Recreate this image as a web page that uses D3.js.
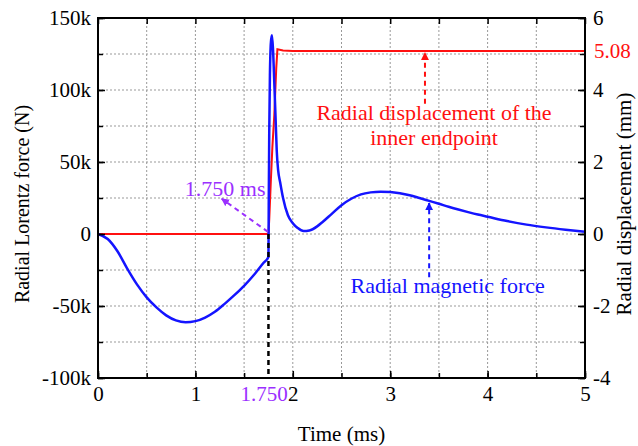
<!DOCTYPE html>
<html>
<head>
<meta charset="utf-8">
<script src="https://cdn.jsdelivr.net/npm/d3@7"></script>
<style>
  html, body { margin: 0; padding: 0; background: #fff; }
  svg { display: block; }
  svg text { font-family: "Liberation Serif", "Times New Roman", serif !important; }
</style>
</head>
<body>
<svg id="chart" width="638" height="446"></svg>
<script>
// ---- data ----
const forceTime = [0,0.1,0.2,0.3,0.4,0.5,0.6,0.7,0.8,0.9,1.0,1.1,1.2,1.3,1.4,1.5,1.6,1.7,1.75,
  1.753,1.758,1.765,1.775,1.786,1.797,1.81,1.824,1.835,1.85,1.87,1.9,1.95,2.0,2.05,2.11,2.17,2.25,2.3,2.4,2.5,2.6,2.7,2.8,2.9,3.0,
  3.1,3.2,3.3,3.4,3.5,3.6,3.7,3.8,3.9,4.0,4.2,4.4,4.6,4.8,5.0];
const forceValues = [0,-3.5,-12,-24,-35,-44,-51,-56.5,-60,-61.3,-60.5,-58,-54,-48.5,-42.5,-36,-28.5,-20,-16,
  20,70,110,133,138,128,105,79,58,44,36,25,13,7.5,4.2,2.1,2.5,5.3,8,14,20,24.5,27.5,28.9,29.4,29.2,
  28.3,26.9,25.0,23.0,21.0,18.9,17.0,15.2,13.5,12.0,9.0,6.5,4.6,3.0,1.6].map(v => v * 1000);
const dispTime = [0,1.75,1.758,1.775,1.79,1.81,1.83,1.842,1.9,2.0,5.0];
const dispValues = [0,0,0.4,1.5,2.4,3.3,4.6,5.13,5.1,5.08,5.08];

const xTicks = [0,1,2,3,4,5];
const xMinorTicks = [0,0.5,1,1.5,2,2.5,3,3.5,4,4.5,5];
const leftTicks = [-100000,-50000,0,50000,100000,150000];
const leftTickLabels = ["-100k","-50k","0","50k","100k","150k"];
const leftMinorTicks = [-100000,-75000,-50000,-25000,0,25000,50000,75000,100000,125000,150000];
const rightTicks = [-4,-2,0,2,4,6];
const rightTickLabels = ["-4","-2","0","2","4","6"];
const rightMinorTicks = [-4,-3,-2,-1,0,1,2,3,4,5,6];

const switchTime = 1.75;
const switchLabel = "1.750";
const switchAnnot = "1.750 ms";
const finalDisp = 5.08;
const finalDispLabel = "5.08";

// ---- layout ----
const svg = d3.select("#chart");
const L = 98, R = 585, T = 18, B = 378;
const x = d3.scaleLinear([0,5],[L,R]);
const yL = d3.scaleLinear([-100000,150000],[B,T]);
const yR = d3.scaleLinear([-4,6],[B,T]);

const BLUE = "#1414ff", RED = "#ff1010", PURPLE = "#9b30ff";
const SERIF = '"Liberation Serif", "Times New Roman", serif';

// defs: arrowheads
const defs = svg.append("defs");
function marker(id, color) {
  defs.append("marker").attr("id", id).attr("viewBox","0 0 10 10")
    .attr("refX", 9).attr("refY", 5).attr("markerWidth", 4).attr("markerHeight", 4)
    .attr("markerUnits","strokeWidth").attr("orient","auto")
    .append("path").attr("d","M0,0 L10,5 L0,10 z").attr("fill", color);
}
marker("arP", PURPLE); marker("arR", RED); marker("arB", BLUE);

// grid
const grid = svg.append("g").attr("stroke","#999").attr("stroke-width",1).attr("stroke-dasharray","2,2");
xMinorTicks.filter(t => t > 0 && t < 5).forEach(t => {
  grid.append("line").attr("x1", x(t)).attr("x2", x(t)).attr("y1", T).attr("y2", B);
});
leftMinorTicks.filter(v => v > -100000 && v < 150000).forEach(v => {
  grid.append("line").attr("x1", L).attr("x2", R).attr("y1", yL(v)).attr("y2", yL(v));
});

// curves
svg.append("path").datum(dispTime.map((t,i) => [t, dispValues[i]]))
  .attr("fill","none").attr("stroke",RED).attr("stroke-width",2)
  .attr("d", d3.line().x(d => x(d[0])).y(d => yR(d[1])));
svg.append("path").datum(forceTime.map((t,i) => [t, forceValues[i]]))
  .attr("fill","none").attr("stroke",BLUE).attr("stroke-width",2.5)
  .attr("d", d3.line().x(d => x(d[0])).y(d => yL(d[1])).curve(d3.curveMonotoneX));

// black dashed switch line
svg.append("line").attr("x1", x(switchTime)).attr("x2", x(switchTime))
  .attr("y1", yL(0)).attr("y2", B).attr("stroke","#000").attr("stroke-width",2.5)
  .attr("stroke-dasharray","5,4");

// axes (inside ticks)
const fs = "21px";
function styleAxis(g) {
  g.attr("font-family", null).attr("font-size", null);
  g.select(".domain").remove();
  g.selectAll("line").attr("stroke","#000").attr("stroke-width",1.5);
  g.selectAll("text").attr("font-size",fs).attr("fill","#000").style("font-family", SERIF);
}

svg.append("g").attr("transform",`translate(0,${B})`)
  .call(d3.axisBottom(x).tickValues(xTicks).tickSize(-7).tickPadding(8).tickFormat(d => String(d)))
  .call(styleAxis);
svg.append("g").attr("transform",`translate(0,${B})`)
  .call(d3.axisBottom(x).tickValues(xMinorTicks).tickSize(-5).tickFormat(""))
  .call(styleAxis);
svg.append("g").attr("transform",`translate(0,${T})`)
  .call(d3.axisTop(x).tickValues(xMinorTicks).tickSize(-6).tickFormat(""))
  .call(styleAxis);
svg.append("g").attr("transform",`translate(${L},0)`)
  .call(d3.axisLeft(yL).tickValues(leftTicks).tickSize(-7).tickPadding(7).tickFormat((d,i) => leftTickLabels[i]))
  .call(styleAxis);
svg.append("g").attr("transform",`translate(${L},0)`)
  .call(d3.axisLeft(yL).tickValues(leftMinorTicks).tickSize(-5).tickFormat(""))
  .call(styleAxis);
svg.append("g").attr("transform",`translate(${R},0)`)
  .call(d3.axisRight(yR).tickValues(rightTicks).tickSize(-7).tickPadding(8).tickFormat((d,i) => rightTickLabels[i]))
  .call(styleAxis);
svg.append("g").attr("transform",`translate(${R},0)`)
  .call(d3.axisRight(yR).tickValues(rightMinorTicks).tickSize(-5).tickFormat(""))
  .call(styleAxis);

// frame
svg.append("rect").attr("x",L).attr("y",T).attr("width",R-L).attr("height",B-T)
  .attr("fill","none").attr("stroke","#000").attr("stroke-width",2);

function txt(sel) { return sel.style("font-family", SERIF); }

// special tick labels
txt(svg.append("text")).attr("x", x(2) - 5).attr("y", B + 23).attr("text-anchor","end")
  .attr("font-size",fs).attr("fill",PURPLE).text(switchLabel);
txt(svg.append("text")).attr("x", R + 9).attr("y", yR(finalDisp)).attr("dy","0.35em")
  .attr("font-size",fs).attr("fill",RED).text(finalDispLabel);

// axis titles
txt(svg.append("text")).attr("x", (L+R)/2).attr("y", 441).attr("text-anchor","middle")
  .attr("font-size",fs).text("Time (ms)");
txt(svg.append("text")).attr("transform",`translate(29,${(T+B)/2 + 6}) rotate(-90)`).attr("text-anchor","middle")
  .attr("font-size","20px").text("Radial Lorentz force (N)");
txt(svg.append("text")).attr("transform",`translate(631,${(T+B)/2 + 6}) rotate(-90)`).attr("text-anchor","middle")
  .attr("font-size",fs).text("Radial displacement (mm)");

// annotations
const afs = "22px";
// purple
svg.append("line").attr("x1", x(1.745)).attr("y1", yL(1500)).attr("x2", x(1.27)).attr("y2", yL(24500))
  .attr("stroke",PURPLE).attr("stroke-width",2).attr("stroke-dasharray","5,4").attr("marker-end","url(#arP)");
txt(svg.append("text")).attr("x", x(1.72)).attr("y", yL(26500)).attr("text-anchor","end")
  .attr("font-size",afs).attr("fill",PURPLE).text(switchAnnot);
// red
svg.append("line").attr("x1", x(3.357)).attr("y1", yR(3.62)).attr("x2", x(3.357)).attr("y2", yR(5.03))
  .attr("stroke",RED).attr("stroke-width",2).attr("stroke-dasharray","5,4").attr("marker-end","url(#arR)");
txt(svg.append("text")).attr("x", x(3.45)).attr("y", yR(3.17)).attr("text-anchor","middle")
  .attr("font-size",afs).attr("fill",RED).text("Radial displacement of the");
txt(svg.append("text")).attr("x", x(3.45)).attr("y", yR(2.47)).attr("text-anchor","middle")
  .attr("font-size",afs).attr("fill",RED).text("inner endpoint");
// blue
svg.append("line").attr("x1", x(3.40)).attr("y1", yL(-30000)).attr("x2", x(3.40)).attr("y2", yL(21500))
  .attr("stroke",BLUE).attr("stroke-width",2).attr("stroke-dasharray","5,4").attr("marker-end","url(#arB)");
txt(svg.append("text")).attr("x", x(3.59)).attr("y", yL(-41000)).attr("text-anchor","middle")
  .attr("font-size",afs).attr("fill",BLUE).text("Radial magnetic force");
</script>
</body>
</html>
